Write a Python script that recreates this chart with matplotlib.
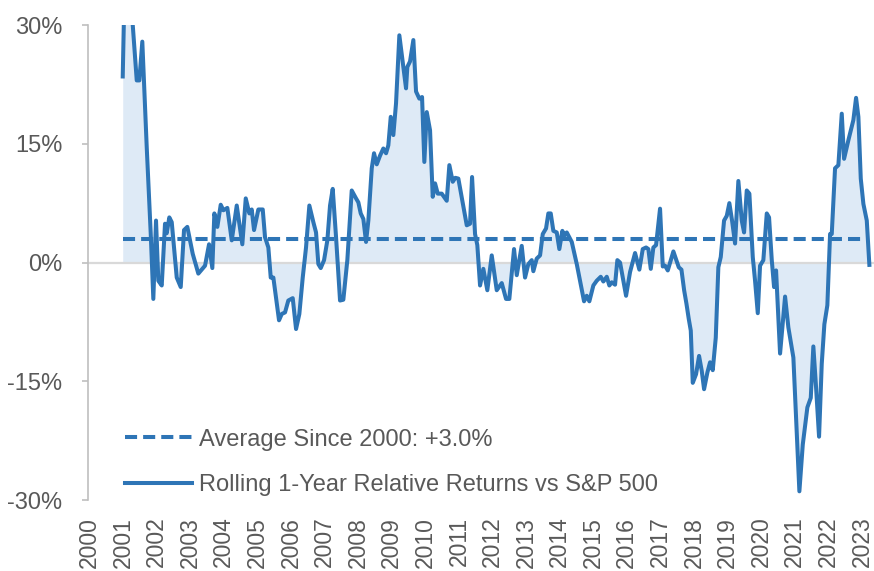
import matplotlib
matplotlib.use("Agg")
import matplotlib.pyplot as plt

plt.rcParams["font.family"] = ["Liberation Sans", "DejaVu Sans"]

# fractional year, rolling 1-year relative return vs S&P 500 (%)
years = [
    2000.989, 2001.030, 2001.150, 2001.270, 2001.406, 2001.483, 2001.572, 2001.703,
    2001.822, 2001.900, 2001.980, 2002.049, 2002.150, 2002.248, 2002.299, 2002.376,
    2002.448, 2002.597, 2002.716, 2002.814, 2002.912, 2003.073, 2003.240, 2003.440,
    2003.559, 2003.657, 2003.717, 2003.806, 2003.907, 2003.985, 2004.104, 2004.235,
    2004.384, 2004.550, 2004.652, 2004.759, 2004.830, 2004.899, 2005.027, 2005.158,
    2005.226, 2005.325, 2005.396, 2005.474, 2005.643, 2005.724, 2005.822, 2005.920,
    2006.051, 2006.150, 2006.248, 2006.349, 2006.447, 2006.546, 2006.665, 2006.745,
    2006.814, 2006.885, 2006.984, 2007.082, 2007.162, 2007.242, 2007.341, 2007.460,
    2007.558, 2007.677, 2007.808, 2007.936, 2008.005, 2008.076, 2008.154, 2008.234,
    2008.303, 2008.404, 2008.472, 2008.553, 2008.651, 2008.749, 2008.830, 2008.898,
    2008.970, 2009.047, 2009.127, 2009.226, 2009.425, 2009.464, 2009.544, 2009.643,
    2009.723, 2009.821, 2009.902, 2009.970, 2010.042, 2010.140, 2010.220, 2010.289,
    2010.369, 2010.488, 2010.637, 2010.715, 2010.816, 2010.893, 2010.983, 2011.233,
    2011.331, 2011.391, 2011.480, 2011.548, 2011.629, 2011.727, 2011.846, 2011.977,
    2012.126, 2012.275, 2012.403, 2012.501, 2012.641, 2012.722, 2012.870, 2012.969,
    2013.067, 2013.168, 2013.216, 2013.317, 2013.416, 2013.496, 2013.594, 2013.663,
    2013.734, 2013.812, 2013.913, 2013.990, 2014.080, 2014.140, 2014.211, 2014.360,
    2014.509, 2014.607, 2014.726, 2014.806, 2014.884, 2015.003, 2015.104, 2015.223,
    2015.301, 2015.402, 2015.479, 2015.551, 2015.649, 2015.718, 2015.798, 2015.977,
    2016.096, 2016.245, 2016.373, 2016.474, 2016.573, 2016.641, 2016.713, 2016.790,
    2016.870, 2016.989, 2017.070, 2017.138, 2017.219, 2017.386, 2017.546, 2017.626,
    2017.706, 2017.775, 2017.843, 2017.904, 2017.963, 2018.062, 2018.151, 2018.231,
    2018.300, 2018.398, 2018.478, 2018.558, 2018.648, 2018.725, 2018.797, 2018.895,
    2018.976, 2019.053, 2019.133, 2019.223, 2019.321, 2019.422, 2019.491, 2019.571,
    2019.649, 2019.750, 2019.818, 2019.899, 2019.967, 2020.065, 2020.167, 2020.235,
    2020.316, 2020.384, 2020.444, 2020.563, 2020.712, 2020.810, 2020.959, 2021.138,
    2021.239, 2021.376, 2021.477, 2021.554, 2021.635, 2021.724, 2021.804, 2021.882,
    2021.971, 2022.052, 2022.102, 2022.200, 2022.299, 2022.400, 2022.469, 2022.600,
    2022.746, 2022.826, 2022.895, 2022.966, 2023.044, 2023.145, 2023.222,
]
rel_return = [
    23.5, 32.0, 40.0, 31.0, 23.0, 23.0, 27.9, 14.6,
    3.7, -4.6, 5.3, -2.3, -2.9, 4.9, 3.7, 5.7,
    5.1, -1.9, -3.1, 4.1, 4.5, 1.1, -1.4, -0.4,
    2.3, -0.7, 6.2, 4.5, 7.3, 6.6, 6.9, 2.8,
    7.2, 2.3, 8.1, 6.2, 6.7, 4.1, 6.7, 6.7,
    3.2, 1.9, -1.9, -1.9, -7.3, -6.5, -6.3, -4.8,
    -4.5, -8.4, -6.5, -1.9, 1.9, 7.2, 5.1, 3.8,
    -0.2, -0.7, 0.3, 2.8, 7.2, 9.3, 3.2, -4.8,
    -4.7, 0.3, 9.1, 8.1, 7.6, 6.2, 5.5, 2.6,
    5.3, 11.9, 13.8, 12.4, 13.5, 14.4, 13.8, 14.8,
    18.4, 16.1, 20.1, 28.7, 22.0, 24.7, 25.4, 28.1,
    21.6, 20.7, 20.9, 12.7, 19.0, 16.7, 8.3, 10.0,
    8.7, 8.7, 7.8, 12.3, 10.2, 10.7, 10.6, 4.7,
    4.9, 10.8, 3.6, 2.2, -2.9, -0.8, -3.5, 0.9,
    -3.5, -2.6, -4.6, -4.6, 1.7, -1.6, 2.1, -1.9,
    -0.2, 0.3, -1.1, 0.5, 0.9, 3.6, 4.3, 6.2,
    6.2, 4.0, 3.8, 1.7, 4.0, 3.4, 3.8, 2.6,
    -0.2, -2.3, -4.9, -4.2, -4.9, -2.9, -2.3, -1.8,
    -2.4, -1.8, -2.9, -2.5, -2.8, 0.3, 0.0, -4.2,
    -1.2, 1.2, -0.9, 1.7, 1.9, 1.7, -0.8, 1.9,
    2.2, 6.8, -0.5, -0.4, -1.0, 1.4, -0.6, -0.9,
    -3.5, -5.2, -7.1, -8.6, -15.2, -14.1, -11.8, -13.7,
    -16.0, -13.9, -12.6, -13.6, -9.5, -0.6, 0.7, 5.3,
    5.9, 7.5, 5.3, 2.4, 10.3, 5.3, 3.8, 9.1,
    8.7, 0.7, -2.3, -6.4, -0.4, 0.3, 6.2, 5.7,
    0.3, -3.1, -1.0, -11.5, -4.3, -8.2, -12.0, -28.9,
    -23.0, -18.3, -17.1, -10.6, -15.8, -22.0, -12.8, -7.8,
    -5.4, 3.6, 3.6, 11.9, 12.3, 18.8, 13.1, 15.5,
    18.0, 20.8, 18.4, 10.6, 7.4, 5.3, -0.3,
]
average = 3.0
year_ticks = list(range(2000, 2024))
pct_ticks = [-30, -15, 0, 15, 30]

blue = "#2E75B6"
fill_blue = "#DEEAF6"
grey_text = "#595959"

fig = plt.figure(figsize=(8.74, 5.71), dpi=100)
ax = fig.add_axes([0.1007, 0.1243, 0.8993, 0.8319])

ax.fill_between(years, rel_return, 0, color=fill_blue, lw=0, zorder=1)
ax.axhline(0, color="#d9d9d9", lw=1.6, zorder=1.5)
ax.hlines(average, years[0], years[-1], color=blue, lw=2.9,
          linestyles=(0, (3.0, 1.5)), zorder=2,
          label="Average Since 2000: +3.0%")
ax.plot(years, rel_return, color=blue, lw=2.9, solid_joinstyle="round",
        zorder=3, label="Rolling 1-Year Relative Returns vs S&P 500")

ax.set_xlim(1999.955, 2023.36)
ax.set_ylim(-30, 30)
ax.set_xticks(year_ticks)
ax.set_xticklabels([str(y) for y in year_ticks], rotation=90)
ax.set_yticks(pct_ticks)
ax.set_yticklabels([f"{v}%" for v in pct_ticks])

for side in ["top", "right", "bottom"]:
    ax.spines[side].set_visible(False)
ax.spines["left"].set_color("#bfbfbf")
ax.spines["left"].set_linewidth(1.2)

ax.tick_params(axis="x", length=0, pad=12, labelsize=16.5, labelcolor=grey_text)
ax.tick_params(axis="y", length=4.5, width=1.2, color="#bfbfbf", pad=14,
               labelsize=17, labelcolor=grey_text)

leg = ax.legend(loc="center left", bbox_to_anchor=(0.047, 0.079), frameon=False,
                fontsize=17, handlelength=2.85, handletextpad=0.3,
                labelspacing=1.0, borderpad=0, borderaxespad=0)
for t in leg.get_texts():
    t.set_color(grey_text)

fig.savefig("out.png", dpi=100)
